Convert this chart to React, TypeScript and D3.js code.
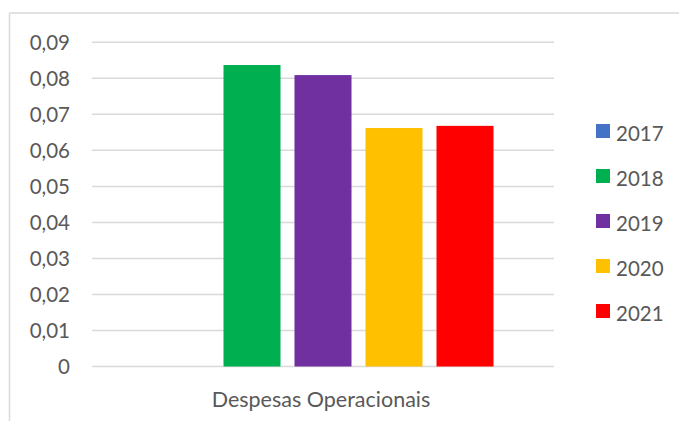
import React from "react";
import * as d3 from "d3";

const categories = ["Despesas Operacionais"];
const seriesNames = ["2017", "2018", "2019", "2020", "2021"];
const seriesValues = [0, 0.0837, 0.0809, 0.0662, 0.0668];
const seriesColors = ["#4472C4", "#00B050", "#7030A0", "#FFC000", "#FF0000"];
const yTicks = [0, 0.01, 0.02, 0.03, 0.04, 0.05, 0.06, 0.07, 0.08, 0.09];

const W = 679;
const H = 421;
const FONT = "Lato, 'Open Sans', sans-serif";
const TEXT = "#595959";
const GRID = "#d9d9d9";

export default function App() {
  const plotLeft = 92;
  const plotRight = 554;
  const y = d3.scaleLinear().domain([0, 0.09]).range([366.5, 42.3]);
  const x0 = d3
    .scaleBand<string>()
    .domain(categories)
    .range([plotLeft, plotRight])
    .paddingInner(0)
    .paddingOuter(0.1774);
  const x1 = d3
    .scaleBand<string>()
    .domain(seriesNames)
    .range([0, x0.bandwidth()])
    .paddingInner(0.197)
    .paddingOuter(0);
  const fmt = (v: number) => (v === 0 ? "0" : d3.format(".2f")(v).replace(".", ","));

  return (
    <svg
      width={W}
      height={H}
      style={{ position: "absolute", left: 0, top: 0, background: "#fff" }}
      fontFamily={FONT}
    >
      {/* chart frame */}
      <line x1={9.5} x2={W + 5} y1={13} y2={13} stroke={GRID} strokeWidth={1.5} />
      <line x1={9.5} x2={9.5} y1={13} y2={H + 5} stroke={GRID} strokeWidth={1.5} />

      {/* gridlines and y labels */}
      {yTicks.map((t) => (
        <g key={t}>
          <line x1={plotLeft} x2={plotRight} y1={y(t)} y2={y(t)} stroke={GRID} strokeWidth={1.5} />
          <text x={70} y={y(t) + 7.5} textAnchor="end" fontSize={20.5} fill={TEXT}>
            {fmt(t)}
          </text>
        </g>
      ))}

      {/* bars */}
      {categories.map((c) => (
        <g key={c} transform={`translate(${x0(c)},0)`}>
          {seriesNames.map((s, i) =>
            seriesValues[i] > 0 ? (
              <rect
                key={s}
                x={x1(s)}
                y={y(seriesValues[i])}
                width={x1.bandwidth()}
                height={y(0) - y(seriesValues[i])}
                fill={seriesColors[i]}
              />
            ) : null
          )}
        </g>
      ))}

      {/* category label */}
      {categories.map((c) => (
        <text
          key={c}
          x={(x0(c) ?? 0) + x0.bandwidth() / 2 - 2}
          y={406.5}
          textAnchor="middle"
          fontSize={21.5}
          fill={TEXT}
        >
          {c}
        </text>
      ))}

      {/* legend */}
      {seriesNames.map((s, i) => (
        <g key={s} transform={`translate(596,${131 + i * 45})`}>
          <rect x={0} y={-7} width={14} height={14} fill={seriesColors[i]} />
          <text x={20} y={9.5} fontSize={20.5} fill={TEXT}>
            {s}
          </text>
        </g>
      ))}
    </svg>
  );
}
